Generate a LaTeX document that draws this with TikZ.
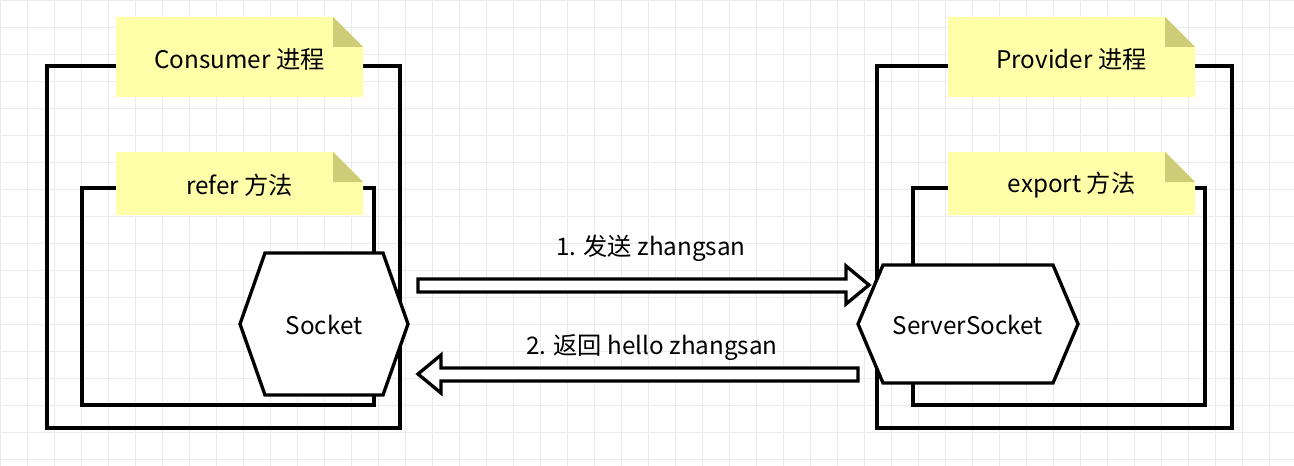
\documentclass[tikz,border=0pt]{standalone}
\usepackage{fontspec}
\setmainfont{Noto Sans CJK SC}
\definecolor{noteY}{RGB}{255,255,170}
\definecolor{foldY}{RGB}{205,205,120}
\begin{document}
\begin{tikzpicture}[x=0.02cm,y=-0.02cm,
  box/.style={draw=black,line width=1.9pt},
  lbl/.style={font=\fontsize{13.8}{16}\selectfont,inner sep=0pt}]
\useasboundingbox (0,0) rectangle (1294,466);
\fill[white] (0,0) rectangle (1294,466);
\foreach \x in {0,27,...,1294} \draw[black!8,line width=0.4pt] (\x,0)--(\x,466);
\foreach \y in {0,27,...,466} \draw[black!8,line width=0.4pt] (0,\y)--(1294,\y);
\newcommand{\mynote}[5]{%
 \fill[noteY] (#1,#2)--(#3-30,#2)--(#3,#2+30)--(#3,#4)--(#1,#4)--cycle;
 \fill[foldY] (#3-30,#2)--(#3-30,#2+30)--(#3,#2+30)--cycle;
 \node[lbl] at ({(#1+#3)/2},{(#2+#4)/2+2}) {#5};}
% left
\draw[box] (47,66) rectangle (400,428);
\mynote{116}{17}{363}{97}{Consumer 进程}
\draw[box] (82,188) rectangle (374,405);
\mynote{116}{152}{363}{215}{refer 方法}
\draw[box,fill=white] (265,253)--(383,253)--(408,324)--(383,395)--(265,395)--(240,324)--cycle;
\node[lbl] (sock) at (324,325) {Socket};
% right
\draw[box] (877,66) rectangle (1232,428);
\mynote{948}{17}{1195}{97}{Provider 进程}
\draw[box] (913,188) rectangle (1205,405);
\mynote{948}{152}{1195}{215}{export 方法}
\draw[box,fill=white] (883,265)--(1053,265)--(1078,324)--(1053,383)--(883,383)--(858,324)--cycle;
\node[lbl] (ssock) at (968,325) {ServerSocket};
% arrows
\draw[box,fill=white] (418,279)--(846,279)--(846,266)--(869,285)--(846,304)--(846,292)--(418,292)--cycle;
\node[lbl] (l1) at (651,248) {1. 发送 zhangsan};
\draw[box,fill=white] (858,368)--(441,368)--(441,355)--(418,374)--(441,393)--(441,381)--(858,381)--cycle;
\node[lbl] (l2) at (652,348) {2. 返回 hello zhangsan};
\end{tikzpicture}
\end{document}
